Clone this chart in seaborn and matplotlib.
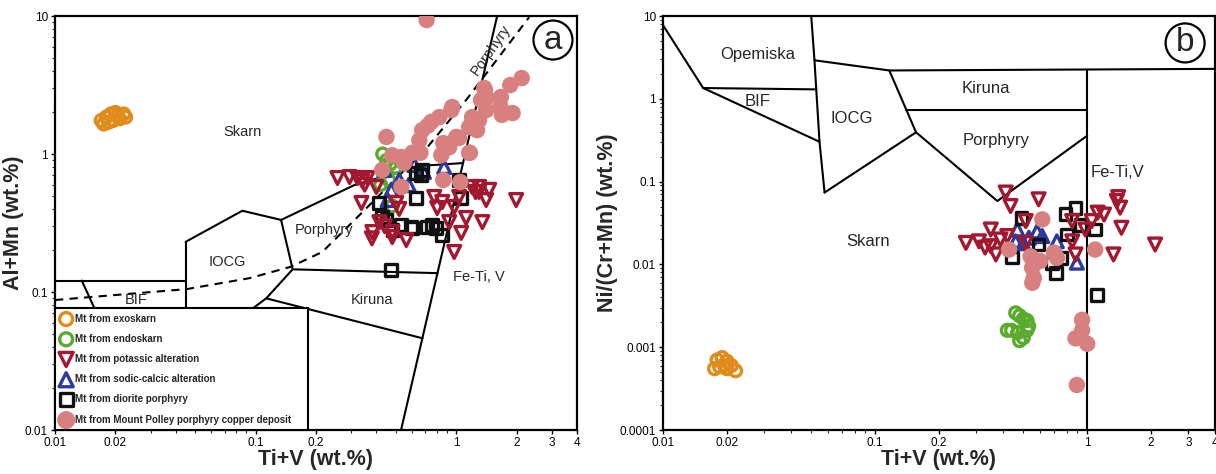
import numpy as np
import pandas as pd
import matplotlib
matplotlib.use("Agg")
import matplotlib.pyplot as plt
import seaborn as sns
from matplotlib.ticker import LogLocator, NullFormatter

sns.set_theme(style="ticks")
plt.rcParams['font.family'] = ['Liberation Sans', 'DejaVu Sans']

# ---------------- data ----------------
groups = ["Mt from exoskarn", "Mt from endoskarn", "Mt from potassic alteration",
          "Mt from sodic-calcic alteration", "Mt from diorite porphyry",
          "Mt from Mount Polley porphyry copper deposit"]

# Panel a : Al+Mn vs Ti+V
a_exo_x = [0.0175, 0.018, 0.019, 0.0195, 0.0205, 0.021, 0.022, 0.0225, 0.017, 0.0185, 0.020]
a_exo_y = [1.65, 1.85, 1.95, 1.75, 1.90, 1.80, 1.95, 1.85, 1.75, 1.70, 2.00]
a_endo_x = [0.43, 0.45, 0.47, 0.44, 0.48, 0.50, 0.46, 0.48, 0.42]
a_endo_y = [1.00, 0.90, 0.85, 0.75, 0.95, 0.80, 0.65, 0.42, 0.60]
a_pot_x = [0.256, 0.294, 0.322, 0.34, 0.361, 0.400, 0.337, 0.503, 0.777, 0.852, 1.035, 1.30,
           1.41, 1.99, 0.804, 0.977, 1.12, 1.35, 0.382, 0.414, 0.481, 0.564, 0.923, 1.059,
           0.977, 1.20, 1.30, 1.46, 1.25, 0.35, 0.44, 0.52, 0.38, 0.48]
a_pot_y = [0.670, 0.681, 0.670, 0.640, 0.670, 0.577, 0.442, 0.442, 0.488, 0.449, 0.488, 0.531,
           0.464, 0.464, 0.406, 0.413, 0.344, 0.321, 0.272, 0.321, 0.272, 0.238, 0.321, 0.268,
           0.195, 0.577, 0.577, 0.550, 0.530, 0.600, 0.300, 0.400, 0.245, 0.250]
a_sod_x = [0.438, 0.475, 0.455, 0.618, 0.69, 0.871, 0.52, 0.58]
a_sod_y = [0.766, 0.548, 0.464, 0.832, 0.74, 0.805, 0.648, 0.596]
a_dio_x = [0.632, 0.677, 0.670, 0.632, 1.035, 1.059, 0.414, 0.428, 0.449, 0.481, 0.533, 0.597,
           0.604, 0.718, 0.760, 0.795, 0.852, 0.475]
a_dio_y = [0.728, 0.766, 0.705, 0.480, 0.648, 0.480, 0.442, 0.349, 0.333, 0.281, 0.306, 0.296,
           0.291, 0.296, 0.306, 0.291, 0.259, 0.144]
a_mp_x = [0.712, 2.12, 1.86, 1.38, 1.39, 1.67, 1.42, 1.33, 1.91, 1.69, 1.66, 1.41, 1.30, 1.16,
          1.27, 1.035, 0.923, 0.843, 1.16, 0.955, 0.945, 0.823, 0.751, 0.677, 0.655, 0.604,
          0.533, 0.449, 0.428, 0.533, 0.862, 1.047, 1.17, 1.00, 0.862, 1.20, 0.663, 0.55,
          0.48, 0.72]
a_mp_y = [9.35, 3.55, 3.16, 3.01, 2.91, 2.59, 2.55, 2.46, 1.98, 1.92, 2.19, 2.08, 1.76, 1.57,
          1.49, 1.31, 1.12, 0.983, 1.02, 2.19, 2.08, 1.85, 1.71, 1.49, 1.26, 1.02, 0.951, 1.33,
          0.766, 0.577, 0.648, 0.627, 1.02, 1.33, 1.20, 1.85, 1.02, 0.86, 0.98, 1.60]

# Panel b : Ni/(Cr+Mn) vs Ti+V
b_exo_x = [0.0175, 0.018, 0.019, 0.0195, 0.020, 0.021, 0.022, 0.0185, 0.020]
b_exo_y = [0.00055, 0.00070, 0.00075, 0.00060, 0.00055, 0.00060, 0.00052, 0.00058, 0.00068]
b_endo_x = [0.46, 0.48, 0.50, 0.52, 0.44, 0.47, 0.50, 0.48, 0.52, 0.53, 0.42]
b_endo_y = [0.0026, 0.0024, 0.0022, 0.0021, 0.0016, 0.0015, 0.0013, 0.0012, 0.0016, 0.0018, 0.0016]
b_pot_x = [0.413, 0.435, 0.59, 0.513, 0.351, 0.268, 0.309, 0.351, 0.39, 0.371, 0.513, 0.849,
           0.98, 0.85, 0.881, 1.12, 1.38, 1.43, 1.45, 1.33, 2.09, 1.05, 1.40, 1.20, 0.42, 0.33]
b_pot_y = [0.0738, 0.0507, 0.0611, 0.0334, 0.0264, 0.0182, 0.019, 0.0166, 0.020, 0.0132,
           0.0182, 0.0334, 0.0264, 0.019, 0.0132, 0.0422, 0.0583, 0.0485, 0.0277, 0.0132,
           0.0174, 0.0334, 0.065, 0.040, 0.022, 0.016]
b_sod_x = [0.468, 0.531, 0.614, 0.719, 0.894, 0.46, 0.58, 0.50]
b_sod_y = [0.0264, 0.021, 0.022, 0.019, 0.0105, 0.019, 0.025, 0.018]
b_dio_x = [0.791, 0.881, 1.09, 0.80, 0.49, 0.442, 0.68, 0.71, 0.59, 1.11, 0.93, 0.75]
b_dio_y = [0.0402, 0.0485, 0.0264, 0.023, 0.0367, 0.0121, 0.0105, 0.0079, 0.0174, 0.0043,
           0.030, 0.012]
b_mp_x = [0.614, 0.428, 0.541, 0.697, 1.09, 0.55, 0.56, 0.551, 0.946, 0.881, 1.00, 0.946,
          0.894, 0.72, 0.60]
b_mp_y = [0.035, 0.0151, 0.0125, 0.0139, 0.0151, 0.0091, 0.0069, 0.006, 0.00214, 0.00128,
          0.0011, 0.0016, 0.00035, 0.012, 0.011]

# Field boundaries, panel a
a_lines = [
    ([0.01, 0.0448], [0.121, 0.121]),
    ([0.0136, 0.0159, 0.019], [0.121, 0.0737, 0.045]),
    ([0.0448, 0.0448], [0.231, 0.02]),
    ([0.0448, 0.0859, 0.134], [0.231, 0.388, 0.333]),
    ([0.134, 0.153, 0.113, 0.0944, 0.085], [0.333, 0.146, 0.090, 0.074, 0.06]),
    ([0.134, 0.311, 0.655, 1.08], [0.333, 0.596, 0.819, 0.86]),
    ([0.153, 0.807], [0.146, 0.137]),
    ([0.113, 0.680], [0.090, 0.0462]),
    ([0.531, 1.60], [0.01, 10]),
]
a_dash_x = [0.01, 0.0454, 0.0933, 0.149, 0.215, 0.322, 0.718, 1.12, 2.31]
a_dash_y = [0.0875, 0.105, 0.126, 0.152, 0.195, 0.349, 1.12, 2.46, 9.8]

# Field boundaries, panel b
b_lines = [
    ([0.01, 0.01547, 0.0528], [7.76, 1.35, 1.30]),
    ([0.01547, 0.0547], [1.35, 0.303]),
    ([0.050, 0.0518, 0.0528, 0.0547, 0.0578], [10, 2.92, 1.30, 0.303, 0.0738]),
    ([0.0518, 0.1167, 4.0], [2.92, 2.2, 2.3]),
    ([0.1167, 0.156, 0.0578], [2.2, 0.394, 0.0738]),
    ([0.140, 1.0], [0.741, 0.741]),
    ([0.156, 0.377, 1.0], [0.394, 0.0583, 0.359]),
    ([1.0, 1.0], [2.25, 0.0001]),
]

# field labels
a_labels = [("Skarn", 0.0861, 1.44), ("Porphyry", 0.22, 0.281), ("IOCG", 0.0726, 0.165),
            ("BIF", 0.0255, 0.0875), ("Kiruna", 0.382, 0.0875), ("Fe-Ti, V", 1.30, 0.129)]
b_labels = [("Opemiska", 0.028, 3.42), ("BIF", 0.028, 0.93), ("IOCG", 0.078, 0.583),
            ("Kiruna", 0.333, 1.32), ("Porphyry", 0.371, 0.318), ("Fe-Ti,V", 1.39, 0.129),
            ("Skarn", 0.093, 0.019)]

x_ticks = [0.01, 0.02, 0.1, 0.2, 1, 2, 3, 4]
x_ticklabels = ["0.01", "0.02", "0.1", "0.2", "1", "2", "3", "4"]
a_yticks = [0.01, 0.1, 1, 10]
a_yticklabels = ["0.01", "0.1", "1", "10"]
b_yticks = [0.0001, 0.001, 0.01, 0.1, 1, 10]
b_yticklabels = ["0.0001", "0.001", "0.01", "0.1", "1", "10"]

# ---------------- styles ----------------
colors = {"exo": "#E08C1C", "endo": "#5BAA30", "pot": "#A3182F",
          "sod": "#2B3A9C", "dio": "#111111", "mp": "#D8807F"}

fig = plt.figure(figsize=(12.16, 4.74), dpi=100)
ax1 = fig.add_axes([0.0452, 0.0928, 0.4293, 0.8734])
ax2 = fig.add_axes([0.5452, 0.0928, 0.4539, 0.8734])


def draw_points(ax, data):
    handles = {}
    order = ["exo", "endo", "sod", "dio", "pot", "mp"]
    specs = {
        "exo": dict(marker="o", s=72, open=True),
        "endo": dict(marker="o", s=72, open=True),
        "sod": dict(marker="^", s=85, open=True),
        "dio": dict(marker="s", s=72, open=True),
        "pot": dict(marker="v", s=85, open=True),
        "mp": dict(marker="o", s=140, open=False),
    }
    for z, key in enumerate(order):
        xs, ys = data[key]
        df = pd.DataFrame({"x": xs, "y": ys})
        sp = specs[key]
        if sp["open"]:
            sns.scatterplot(data=df, x="x", y="y", ax=ax, marker=sp["marker"], s=sp["s"],
                            facecolors="none", edgecolors=colors[key], linewidths=2.4,
                            legend=False, zorder=3 + z)
        else:
            sns.scatterplot(data=df, x="x", y="y", ax=ax, marker=sp["marker"], s=sp["s"],
                            color=colors[key], edgecolor="none", linewidth=0,
                            legend=False, zorder=3 + z)
        handles[key] = ax.collections[-1]
    return handles


ha = draw_points(ax1, {"exo": (a_exo_x, a_exo_y), "endo": (a_endo_x, a_endo_y),
                       "pot": (a_pot_x, a_pot_y), "sod": (a_sod_x, a_sod_y),
                       "dio": (a_dio_x, a_dio_y), "mp": (a_mp_x, a_mp_y)})
draw_points(ax2, {"exo": (b_exo_x, b_exo_y), "endo": (b_endo_x, b_endo_y),
                  "pot": (b_pot_x, b_pot_y), "sod": (b_sod_x, b_sod_y),
                  "dio": (b_dio_x, b_dio_y), "mp": (b_mp_x, b_mp_y)})

for xs, ys in a_lines:
    ax1.plot(xs, ys, color="black", lw=1.5, zorder=2)
ax1.plot(a_dash_x, a_dash_y, color="black", lw=1.5, ls=(0, (4, 3)), zorder=2)
for xs, ys in b_lines:
    ax2.plot(xs, ys, color="black", lw=1.5, zorder=2)

for txt, x, y in a_labels:
    ax1.text(x, y, txt, fontsize=10.5, ha="center", va="center", zorder=2)
ax1.text(1.49, 5.67, "Porphyry", fontsize=10.5, ha="center", va="center", rotation=55, zorder=2)
for txt, x, y in b_labels:
    ax2.text(x, y, txt, fontsize=12, ha="center", va="center", zorder=2)

for ax, yt, yl, ylim in [(ax1, a_yticks, a_yticklabels, (0.01, 10)),
                         (ax2, b_yticks, b_yticklabels, (0.0001, 10))]:
    ax.set_xscale("log")
    ax.set_yscale("log")
    ax.set_xlim(0.01, 4)
    ax.set_ylim(*ylim)
    ax.set_xticks(x_ticks)
    ax.set_xticklabels(x_ticklabels)
    ax.set_yticks(yt)
    ax.set_yticklabels(yl)
    ax.xaxis.set_minor_locator(LogLocator(base=10, subs=np.arange(2, 10)))
    ax.yaxis.set_minor_locator(LogLocator(base=10, subs=np.arange(2, 10)))
    ax.xaxis.set_minor_formatter(NullFormatter())
    ax.yaxis.set_minor_formatter(NullFormatter())
    ax.tick_params(which="major", direction="out", length=3, width=1, labelsize=8.5,
                   colors="black", pad=2)
    ax.tick_params(which="minor", direction="out", length=2, width=0.8)
    for sp in ax.spines.values():
        sp.set_linewidth(1.6)
        sp.set_color("black")
    ax.set_xlabel("Ti+V (wt.%)", fontsize=15.5, fontweight="bold", labelpad=0)

ax1.set_ylabel("Al+Mn (wt.%)", fontsize=15.5, fontweight="bold", labelpad=1)
ax2.set_ylabel("Ni/(Cr+Mn) (wt.%)", fontsize=15.5, fontweight="bold", labelpad=1)

ax1.text(0.954, 0.942, "a", transform=ax1.transAxes, fontsize=24, ha="center", va="center",
         zorder=20, bbox=dict(boxstyle="circle,pad=0.12", fc="white", ec="black", lw=1.6))
ax2.text(0.946, 0.935, "b", transform=ax2.transAxes, fontsize=24, ha="center", va="center",
         zorder=20, bbox=dict(boxstyle="circle,pad=0.12", fc="white", ec="black", lw=1.6))

keys = ["exo", "endo", "pot", "sod", "dio", "mp"]
leg = ax1.legend([ha[k] for k in keys], groups, loc="lower left",
                 bbox_to_anchor=(0, 0, 0.485, 0.29), mode="expand",
                 borderaxespad=0, frameon=True, fancybox=False, framealpha=1,
                 edgecolor="black", prop=dict(size=7, weight="bold"),
                 labelspacing=1.05, handletextpad=0.35, borderpad=0.55, handlelength=1.2,
                 markerscale=1.1)
leg.get_frame().set_linewidth(1.5)
leg.set_zorder(15)

fig.savefig("out.png", dpi=100)
